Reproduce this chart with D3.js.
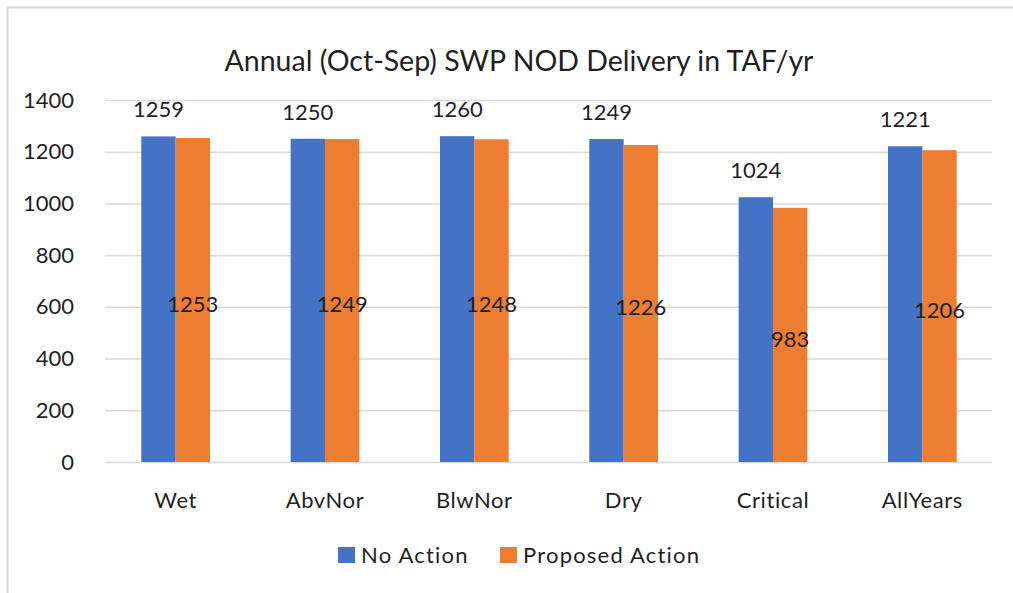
<!DOCTYPE html>
<html>
<head>
<meta charset="utf-8">
<script src="https://cdn.jsdelivr.net/npm/d3@7"></script>
<style>
  body { margin: 0; background: #fff; }
  svg { display: block; font-family: Lato, "Open Sans", sans-serif; }
</style>
</head>
<body>
<div id="chart"></div>
<script>
const categories = ["Wet", "AbvNor", "BlwNor", "Dry", "Critical", "AllYears"];
const seriesNames = ["No Action", "Proposed Action"];
const noAction = [1259, 1250, 1260, 1249, 1024, 1221];
const proposedAction = [1253, 1249, 1248, 1226, 983, 1206];
const yTicks = [0, 200, 400, 600, 800, 1000, 1200, 1400];
const titleText = "Annual (Oct-Sep) SWP NOD Delivery in TAF/yr";

const width = 1013;
const height = 593;
const colors = ["#4472C4", "#ED7D31"];
const textColor = "#1f1f1f";

const data = categories.map((c, i) => ({
  category: c,
  values: [noAction[i], proposedAction[i]],
}));

const svg = d3
  .select("#chart")
  .append("svg")
  .attr("width", width)
  .attr("height", height);

// frame (only top and left edges show in the picture)
svg
  .append("path")
  .attr("d", `M7.5,${height} V7.5 H${width}`)
  .attr("fill", "none")
  .attr("stroke", "#d6d6d6")
  .attr("stroke-width", 2);

const x = d3
  .scaleBand()
  .domain(categories)
  .range([101, 997])
  .paddingInner(0.54)
  .paddingOuter(0.27);

const xInner = d3
  .scaleBand()
  .domain(seriesNames)
  .range([0, x.bandwidth()]);

const y = d3.scaleLinear().domain([0, 1400]).range([462, 100]);

// y axis with gridlines
const yAxis = svg
  .append("g")
  .attr("transform", "translate(105,0)")
  .call(
    d3
      .axisLeft(y)
      .tickValues(yTicks)
      .tickFormat(d3.format("d"))
      .tickSize(-887)
      .tickPadding(31)
  );
yAxis.select(".domain").remove();
yAxis.selectAll("line").attr("stroke", "#d9d9d9").attr("stroke-width", 1.5);
yAxis
  .selectAll("text")
  .attr("fill", textColor)
  .style("font-size", "22px")
  .style("font-family", "Lato, sans-serif");

// bars
const groups = svg
  .selectAll("g.group")
  .data(data)
  .enter()
  .append("g")
  .attr("class", "group")
  .attr("transform", (d) => `translate(${x(d.category)},0)`);

groups
  .selectAll("rect")
  .data((d) => d.values.map((v, i) => ({ name: seriesNames[i], value: v })))
  .enter()
  .append("rect")
  .attr("x", (d) => xInner(d.name))
  .attr("y", (d) => y(d.value))
  .attr("width", xInner.bandwidth())
  .attr("height", (d) => y(0) - y(d.value))
  .attr("fill", (d, i) => colors[i]);

// labels: No Action above bar, Proposed Action in bar middle
groups
  .append("text")
  .attr("x", xInner(seriesNames[0]) + xInner.bandwidth() / 2)
  .attr("y", (d) => y(d.values[0]) - 19)
  .attr("text-anchor", "middle")
  .attr("fill", textColor)
  .style("font-size", "22px")
  .text((d) => d.values[0]);

groups
  .append("text")
  .attr("x", xInner(seriesNames[1]) + xInner.bandwidth() / 2)
  .attr("y", (d) => (y(d.values[1]) + y(0)) / 2 + 4)
  .attr("dy", "0.35em")
  .attr("text-anchor", "middle")
  .attr("fill", textColor)
  .style("font-size", "22px")
  .text((d) => d.values[1]);

// category labels
svg
  .append("g")
  .selectAll("text")
  .data(categories)
  .enter()
  .append("text")
  .attr("x", (d) => x(d) + x.bandwidth() / 2)
  .attr("y", 508)
  .attr("text-anchor", "middle")
  .attr("fill", textColor)
  .style("font-size", "22px")
  .style("letter-spacing", "0.6px")
  .text((d) => d);

// title
svg
  .append("text")
  .attr("x", 519)
  .attr("y", 71)
  .attr("text-anchor", "middle")
  .attr("fill", textColor)
  .style("font-size", "28.5px")
  .text(titleText);

// legend
const legendItems = [
  { name: seriesNames[0], x: 338, color: colors[0] },
  { name: seriesNames[1], x: 500, color: colors[1] },
];
const legend = svg
  .append("g")
  .selectAll("g")
  .data(legendItems)
  .enter()
  .append("g")
  .attr("transform", (d) => `translate(${d.x},547)`);

legend
  .append("rect")
  .attr("width", 17)
  .attr("height", 16)
  .attr("fill", (d) => d.color);

legend
  .append("text")
  .attr("x", 23)
  .attr("y", 16)
  .attr("fill", textColor)
  .style("font-size", "22px")
  .style("letter-spacing", "1.2px")
  .text((d) => d.name);
</script>
</body>
</html>
